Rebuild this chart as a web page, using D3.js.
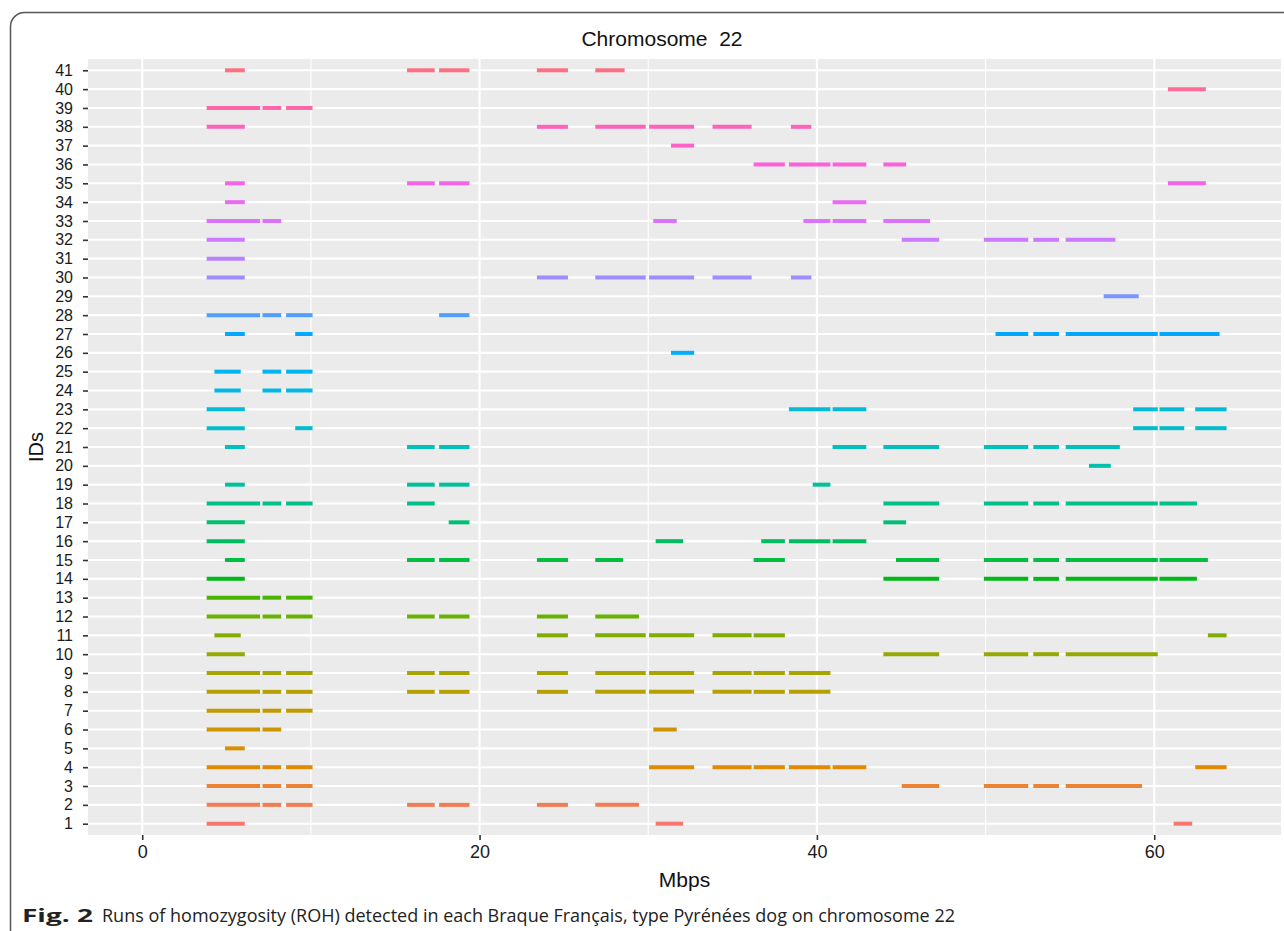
<!DOCTYPE html>
<html>
<head>
<meta charset="utf-8">
<script src="https://cdnjs.cloudflare.com/ajax/libs/d3/7.8.5/d3.min.js"></script>
<style>
  body { margin: 0; background: #fff; }
  text { font-family: 'Liberation Sans', Arial, sans-serif; }
</style>
</head>
<body>
<div id="chart"></div>
<script>
/*** chart values */
var ids = [1, 2, 3, 4, 5, 6, 7, 8, 9, 10, 11, 12, 13, 14, 15, 16, 17, 18, 19, 20,
  21, 22, 23, 24, 25, 26, 27, 28, 29, 30, 31, 32, 33, 34, 35, 36, 37, 38, 39, 40, 41];
var xTicks = [0, 20, 40, 60];
var xMinor = [10, 30, 50];
var xExtent = [0, 64.3];

// ROH runs per dog, [start, end] in Mbp, index 0 = ID 1
var runs = [
  [[3.82, 6.08], [30.44, 32.07], [61.15, 62.25]],
  [[3.82, 6.99], [7.13, 8.24], [8.53, 10.1], [15.7, 17.34], [17.6, 19.4], [23.4, 25.24], [26.86, 29.45]],
  [[3.82, 6.99], [7.13, 8.24], [8.53, 10.1], [45.03, 47.25], [49.9, 52.53], [52.83, 54.35], [54.75, 59.28]],
  [[3.82, 6.99], [7.13, 8.24], [8.53, 10.1], [30.05, 32.72], [33.81, 36.13], [36.25, 38.1], [38.34, 40.8], [40.93, 42.93], [62.43, 64.29]],
  [[4.91, 6.08]],
  [[3.82, 6.99], [7.13, 8.24], [30.3, 31.69]],
  [[3.82, 6.99], [7.13, 8.24], [8.53, 10.1]],
  [[3.82, 6.99], [7.13, 8.24], [8.53, 10.1], [15.7, 17.34], [17.6, 19.4], [23.4, 25.24], [26.86, 29.85], [30.05, 32.72], [33.81, 36.13], [36.25, 38.1], [38.34, 40.8]],
  [[3.82, 6.99], [7.13, 8.24], [8.53, 10.1], [15.7, 17.34], [17.6, 19.4], [23.4, 25.24], [26.86, 29.85], [30.05, 32.72], [33.81, 36.13], [36.25, 38.1], [38.34, 40.8]],
  [[3.82, 6.08], [43.94, 47.25], [49.9, 52.53], [52.83, 54.35], [54.75, 60.21]],
  [[4.28, 5.84], [23.4, 25.24], [26.86, 29.85], [30.05, 32.72], [33.81, 36.13], [36.25, 38.1], [63.18, 64.29]],
  [[3.82, 6.99], [7.13, 8.24], [8.53, 10.1], [15.7, 17.34], [17.6, 19.4], [23.4, 25.24], [26.86, 29.45]],
  [[3.82, 6.99], [7.13, 8.24], [8.53, 10.1]],
  [[3.82, 6.08], [43.94, 47.25], [49.9, 52.53], [52.83, 54.35], [54.75, 60.21], [60.31, 62.53]],
  [[4.91, 6.08], [15.7, 17.34], [17.6, 19.4], [23.4, 25.24], [26.86, 28.5], [36.25, 38.1], [44.69, 47.25], [49.9, 52.53], [52.83, 54.35], [54.75, 60.21], [60.31, 63.18]],
  [[3.82, 6.08], [30.44, 32.07], [36.7, 38.1], [38.34, 40.8], [40.93, 42.93]],
  [[3.82, 6.08], [18.17, 19.4], [43.94, 45.29]],
  [[3.82, 6.99], [7.13, 8.24], [8.53, 10.1], [15.7, 17.34], [43.94, 47.25], [49.9, 52.53], [52.83, 54.35], [54.75, 60.21], [60.31, 62.53]],
  [[4.91, 6.08], [15.7, 17.34], [17.6, 19.4], [39.75, 40.8]],
  [[56.13, 57.42]],
  [[4.91, 6.08], [15.7, 17.34], [17.6, 19.4], [40.93, 42.93], [43.94, 47.25], [49.9, 52.53], [52.83, 54.35], [54.75, 57.96]],
  [[3.82, 6.08], [9.07, 10.1], [58.75, 60.21], [60.31, 61.78], [62.43, 64.29]],
  [[3.82, 6.08], [38.34, 40.8], [40.93, 42.93], [58.75, 60.21], [60.31, 61.78], [62.43, 64.29]],
  [[4.28, 5.84], [7.13, 8.24], [8.53, 10.1]],
  [[4.28, 5.84], [7.13, 8.24], [8.53, 10.1]],
  [[31.35, 32.72]],
  [[4.91, 6.08], [9.07, 10.1], [50.59, 52.53], [52.83, 54.35], [54.75, 60.21], [60.31, 63.87]],
  [[3.82, 6.99], [7.13, 8.24], [8.53, 10.1], [17.6, 19.4]],
  [[57.0, 59.08]],
  [[3.82, 6.08], [23.4, 25.24], [26.86, 29.85], [30.05, 32.72], [33.81, 36.13], [38.46, 39.67]],
  [[3.82, 6.08]],
  [[3.82, 6.08], [45.03, 47.25], [49.9, 52.53], [52.83, 54.35], [54.75, 57.7]],
  [[3.82, 6.99], [7.13, 8.24], [30.3, 31.69], [39.2, 40.8], [40.93, 42.93], [43.94, 46.71]],
  [[4.91, 6.08], [40.93, 42.93]],
  [[4.91, 6.08], [15.7, 17.34], [17.6, 19.4], [60.81, 63.06]],
  [[36.25, 38.1], [38.34, 40.8], [40.93, 42.93], [43.94, 45.29]],
  [[31.35, 32.72]],
  [[3.82, 6.08], [23.4, 25.24], [26.86, 29.85], [30.05, 32.72], [33.81, 36.13], [38.46, 39.67]],
  [[3.82, 6.99], [7.13, 8.24], [8.53, 10.1]],
  [[60.81, 63.06]],
  [[4.91, 6.08], [15.7, 17.34], [17.6, 19.4], [23.4, 25.24], [26.86, 28.6]]
];

var panel = { left: 88, right: 1281, top: 59, bottom: 835 };

// ggplot2 hue_pal(): hcl(h, c = 100, l = 65) in polar LUV
function hueColour(h) {
  var c = 100, l = 65;
  var hr = h * Math.PI / 180;
  var U = c * Math.cos(hr), V = c * Math.sin(hr);
  var Xn = 95.047, Yn = 100, Zn = 108.883;
  var un = 4 * Xn / (Xn + 15 * Yn + 3 * Zn);
  var vn = 9 * Yn / (Xn + 15 * Yn + 3 * Zn);
  var Y = Yn * Math.pow((l + 16) / 116, 3);
  var u = U / (13 * l) + un, v = V / (13 * l) + vn;
  var X = Y * 9 * u / (4 * v);
  var Z = Y * (12 - 3 * u - 20 * v) / (4 * v);
  X /= 100; Y /= 100; Z /= 100;
  var rgb = [
    3.2404542 * X - 1.5371385 * Y - 0.4985314 * Z,
    -0.969266 * X + 1.8760108 * Y + 0.041556 * Z,
    0.0556434 * X - 0.2040259 * Y + 1.0572252 * Z
  ].map(function(t) {
    t = t <= 0.0031308 ? 12.92 * t : 1.055 * Math.pow(t, 1 / 2.4) - 0.055;
    return Math.round(255 * Math.max(0, Math.min(1, t)));
  });
  return d3.rgb(rgb[0], rgb[1], rgb[2]).formatHex();
}
var colour = d3.scaleOrdinal()
  .domain(ids)
  .range(ids.map(function(d, i) { return hueColour(15 + i * 360 / ids.length); }));

var svg = d3.select('#chart')
  .append('svg')
  .attr('width', 1284)
  .attr('height', 931);

// figure frame (only top/left edges show in the crop)
svg.append('rect')
  .attr('x', 10.5).attr('y', 12.5)
  .attr('width', 1320).attr('height', 1000)
  .attr('rx', 14)
  .attr('fill', 'none')
  .attr('stroke', '#555')
  .attr('stroke-width', 1.5);

// 5% expansion like ggplot
var span = xExtent[1] - xExtent[0];
var x = d3.scaleLinear()
  .domain([xExtent[0] - 0.05 * span, xExtent[1] + 0.05 * span])
  .range([panel.left, panel.right]);

var y = d3.scalePoint()
  .domain(ids)
  .range([panel.bottom, panel.top])
  .padding(0.6);

svg.append('rect')
  .attr('x', panel.left).attr('y', panel.top)
  .attr('width', panel.right - panel.left)
  .attr('height', panel.bottom - panel.top)
  .attr('fill', '#EBEBEB');

var grid = svg.append('g');
grid.selectAll('.minor')
  .data(xMinor)
  .enter()
  .append('line')
  .attr('x1', x).attr('x2', x)
  .attr('y1', panel.top).attr('y2', panel.bottom)
  .attr('stroke', '#fff')
  .attr('stroke-width', 1.1);
grid.selectAll('.majorx')
  .data(xTicks)
  .enter()
  .append('line')
  .attr('x1', x).attr('x2', x)
  .attr('y1', panel.top).attr('y2', panel.bottom)
  .attr('stroke', '#fff')
  .attr('stroke-width', 2.1);
grid.selectAll('.majory')
  .data(ids)
  .enter()
  .append('line')
  .attr('x1', panel.left).attr('x2', panel.right)
  .attr('y1', y).attr('y2', y)
  .attr('stroke', '#fff')
  .attr('stroke-width', 2.1);

// flatten to one segment per run
var segs = [];
runs.forEach(function(list, i) {
  list.forEach(function(r) {
    segs.push({ id: ids[i], start: r[0], end: r[1] });
  });
});

svg.append('g')
  .selectAll('line')
  .data(segs)
  .enter()
  .append('line')
  .attr('x1', d => x(d.start))
  .attr('x2', d => x(d.end))
  .attr('y1', d => y(d.id))
  .attr('y2', d => y(d.id))
  .attr('stroke', d => colour(d.id))
  .attr('stroke-width', 4);

// axes
var xAxis = svg.append('g')
  .attr('transform', 'translate(0,' + panel.bottom + ')')
  .call(d3.axisBottom(x).tickValues(xTicks).tickSize(5).tickPadding(5));
xAxis.select('.domain').remove();
xAxis.selectAll('.tick line').attr('stroke', '#333').attr('stroke-width', 1.6);
xAxis.selectAll('.tick text')
  .attr('fill', '#1a1a1a')
  .style('font-size', '18px')
  .style('font-family', "'Liberation Sans', Arial, sans-serif");

var yAxis = svg.append('g')
  .attr('transform', 'translate(' + panel.left + ',0)')
  .call(d3.axisLeft(y).tickSize(5).tickPadding(10));
yAxis.select('.domain').remove();
yAxis.selectAll('.tick line').attr('stroke', '#333').attr('stroke-width', 1.6);
yAxis.selectAll('.tick text')
  .attr('fill', '#1a1a1a')
  .style('font-size', '16px')
  .style('font-family', "'Liberation Sans', Arial, sans-serif");

// titles
svg.append('text')
  .attr('x', 662).attr('y', 46)
  .attr('text-anchor', 'middle')
  .style('font-size', '21px')
  .style('white-space', 'pre')
  .attr('fill', '#111')
  .text('Chromosome  22');

svg.append('text')
  .attr('x', (panel.left + panel.right) / 2).attr('y', 887)
  .attr('text-anchor', 'middle')
  .style('font-size', '21px')
  .attr('fill', '#111')
  .text('Mbps');

svg.append('text')
  .attr('transform', 'translate(43,' + (panel.top + panel.bottom) / 2 + ') rotate(-90)')
  .attr('text-anchor', 'middle')
  .style('font-size', '20px')
  .attr('fill', '#111')
  .text('IDs');

// caption under the figure
svg.append('text')
  .attr('x', 22).attr('y', 922)
  .style('font-family', "'Open Sans', 'Noto Sans', sans-serif")
  .style('font-size', '18px')
  .style('font-weight', 'bold')
  .attr('textLength', 71)
  .attr('lengthAdjust', 'spacingAndGlyphs')
  .attr('fill', '#222')
  .text('Fig. 2');
svg.append('text')
  .attr('x', 102).attr('y', 922)
  .style('font-family', "'Open Sans', 'Noto Sans', sans-serif")
  .style('font-size', '18px')
  .attr('textLength', 853)
  .attr('lengthAdjust', 'spacingAndGlyphs')
  .attr('fill', '#222')
  .text('Runs of homozygosity (ROH) detected in each Braque Français, type Pyrénées dog on chromosome 22');
</script>
</body>
</html>
